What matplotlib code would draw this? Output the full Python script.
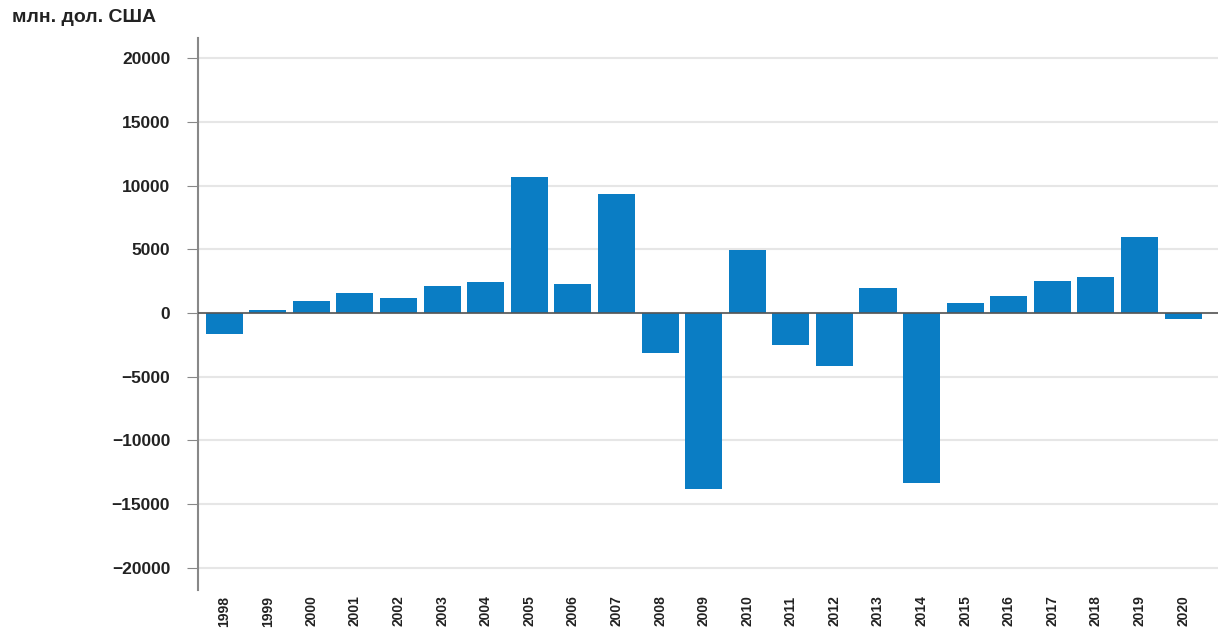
import numpy as np
import matplotlib.pyplot as plt

plt.rcParams['font.family'] = ['Liberation Sans', 'DejaVu Sans']

# years and values, mln USD
years = [str(y) for y in range(1998, 2021)]
values = [-1650, 200, 950, 1570, 1180, 2100, 2400, 10700, 2300, 9350,
          -3150, -13800, 4950, -2500, -4150, 1950, -13350, 800, 1350,
          2500, 2800, 5950, -450]
yticks = [20000, 15000, 10000, 5000, 0, -5000, -10000, -15000, -20000]

fig = plt.figure(figsize=(12.18, 6.28), dpi=100)
ax = fig.add_axes([198/1218, 38/628, 1020/1218, 552/628])

x = np.arange(len(years))
ax.bar(x, values, width=0.85, color="#0a7dc4", zorder=3)

ax.set_ylim(-21750, 21600)
ax.set_xlim(-0.6, len(years) - 0.2)
ax.set_yticks(yticks)
ax.set_yticklabels([str(v).replace("-", "\u2212") for v in yticks],
                   fontsize=12.5, fontweight="bold", color="#222222")
ax.set_xticks(x)
ax.set_xticklabels(years, rotation=90, fontsize=10, fontweight="bold",
                   color="#222222")
ax.tick_params(axis="x", length=0, pad=4)
ax.tick_params(axis="y", length=8, color="#888888", pad=12)

ax.grid(axis="y", color="#e6e6e6", linewidth=1.5, zorder=0)
ax.axhline(0, color="#555555", linewidth=1.2, zorder=4)

for s in ["top", "right", "bottom"]:
    ax.spines[s].set_visible(False)
ax.spines["left"].set_color("#888888")
ax.spines["left"].set_linewidth(1.5)

fig.text(12/1218, 1 - 18/628, "млн. дол. США", fontsize=14, fontweight="bold",
         color="#222222", va="center", ha="left")

fig.savefig("out.png", dpi=100)
